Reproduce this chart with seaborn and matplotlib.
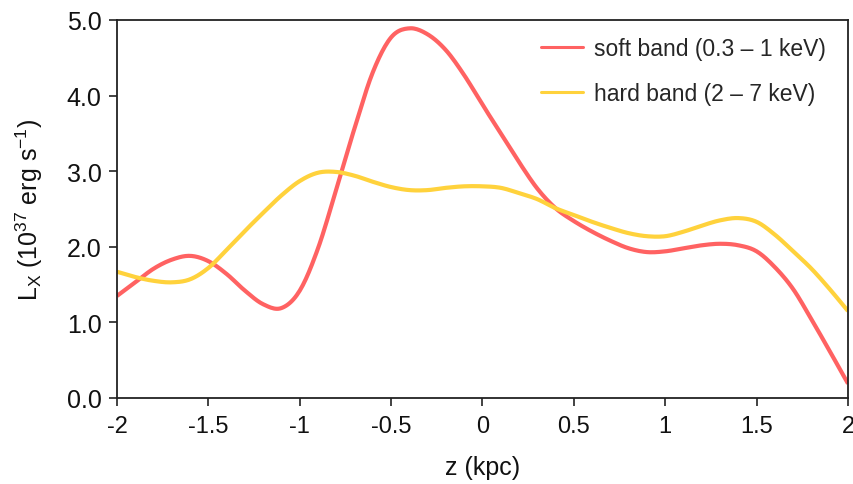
import numpy as np
import pandas as pd
import matplotlib
matplotlib.use("Agg")
import matplotlib.pyplot as plt
import seaborn as sns

z = [-2.0, -1.9, -1.8, -1.7, -1.6, -1.5, -1.4, -1.3, -1.2, -1.1, -1.0,
     -0.9, -0.8, -0.7, -0.6, -0.5, -0.4, -0.3, -0.2, -0.1, 0.0,
     0.1, 0.2, 0.3, 0.4, 0.5, 0.6, 0.7, 0.8, 0.9, 1.0,
     1.1, 1.2, 1.3, 1.4, 1.5, 1.6, 1.7, 1.8, 1.9, 2.0]

soft = [1.35, 1.53, 1.71, 1.83, 1.88, 1.81, 1.64, 1.42, 1.24, 1.19, 1.42,
        1.98, 2.76, 3.57, 4.31, 4.77, 4.89, 4.81, 4.60, 4.27, 3.88,
        3.50, 3.12, 2.77, 2.51, 2.34, 2.20, 2.08, 1.98, 1.93, 1.94,
        1.98, 2.02, 2.04, 2.02, 1.94, 1.73, 1.44, 1.04, 0.62, 0.19]

hard = [1.67, 1.60, 1.55, 1.53, 1.57, 1.72, 1.96, 2.21, 2.45, 2.68, 2.87,
        2.98, 2.99, 2.94, 2.86, 2.79, 2.75, 2.75, 2.78, 2.80, 2.80,
        2.78, 2.71, 2.63, 2.51, 2.42, 2.33, 2.25, 2.18, 2.14, 2.14,
        2.20, 2.28, 2.35, 2.38, 2.33, 2.16, 1.94, 1.71, 1.44, 1.15]

series_names = ["soft band (0.3 \u2013 1 keV)", "hard band (2 \u2013 7 keV)"]
colors = ["#FF6262", "#FFD23C"]
xticks = [-2, -1.5, -1, -0.5, 0, 0.5, 1, 1.5, 2]
xticklabels = ["-2", "-1.5", "-1", "-0.5", "0", "0.5", "1", "1.5", "2"]
yticks = [0.0, 1.0, 2.0, 3.0, 4.0, 5.0]

df = pd.concat([
    pd.DataFrame({"z": z, "L": soft, "band": series_names[0]}),
    pd.DataFrame({"z": z, "L": hard, "band": series_names[1]}),
])

sns.set_style("white")
plt.rcParams["font.family"] = ["Liberation Sans", "DejaVu Sans"]
plt.rcParams["mathtext.fontset"] = "custom"
plt.rcParams["mathtext.rm"] = "Liberation Sans"
plt.rcParams["mathtext.it"] = "Liberation Sans"

fig = plt.figure(figsize=(8.54, 4.85), dpi=100)
ax = fig.add_axes([117 / 854, 1 - 399 / 485, 731 / 854, 378 / 485])

sns.lineplot(data=df, x="z", y="L", hue="band", palette=colors,
             hue_order=series_names, linewidth=3.0, ax=ax, legend=True)

# draw the lines as smooth curves through the read points (Catmull-Rom)
for line in ax.get_lines():
    xd, yd = np.asarray(line.get_xdata(), float), np.asarray(line.get_ydata(), float)
    if len(xd) < 4:
        continue
    xs, ys = [], []
    P = np.column_stack([xd, yd])
    P = np.vstack([P[0], P, P[-1]])
    for i in range(1, len(P) - 2):
        p0, p1, p2, p3 = P[i - 1], P[i], P[i + 1], P[i + 2]
        for t in np.linspace(0, 1, 12, endpoint=False):
            t2, t3 = t * t, t * t * t
            pt = 0.5 * ((2 * p1) + (-p0 + p2) * t + (2 * p0 - 5 * p1 + 4 * p2 - p3) * t2
                        + (-p0 + 3 * p1 - 3 * p2 + p3) * t3)
            xs.append(pt[0]); ys.append(pt[1])
    xs.append(P[-2][0]); ys.append(P[-2][1])
    line.set_data(xs, ys)
    line.set_solid_capstyle("butt")

ax.set_xlim(-2, 2)
ax.set_ylim(0, 5)
ax.set_xticks(xticks)
ax.set_xticklabels(xticklabels)
ax.set_yticks(yticks)
ax.set_yticklabels([f"{v:.1f}" for v in yticks])
ax.tick_params(axis="both", which="major", direction="out", length=6, width=1.2,
               color="#222222", labelcolor="#111111", bottom=True, left=True)
ax.tick_params(axis="y", labelsize=18, pad=5)
ax.tick_params(axis="x", labelsize=17, pad=6)
for s in ax.spines.values():
    s.set_visible(True)
    s.set_linewidth(1.3)
    s.set_color("#222222")

ax.set_xlabel("z (kpc)", fontsize=18, labelpad=13, color="#111111")
ax.set_ylabel(r"L$_\mathrm{X}$ (10$^{37}$ erg s$^{-1}$)", fontsize=18, labelpad=16, color="#111111")

leg = ax.legend(loc="upper right", frameon=False, fontsize=16.5, handlelength=1.85,
                handletextpad=0.45, labelspacing=0.95, borderaxespad=0.0,
                bbox_to_anchor=(0.982, 0.978))
for h in leg.get_lines():
    h.set_linewidth(2.2)

fig.savefig("out.png", dpi=100)
